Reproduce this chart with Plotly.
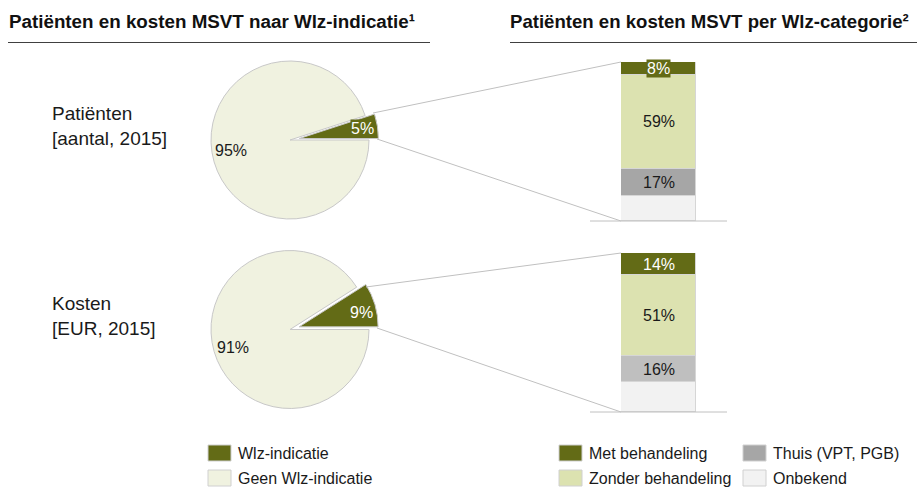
import plotly.graph_objects as go

W, H = 918, 488
FONT = "Liberation Sans, Arial, sans-serif"

# ---- data ----
pie_labels = ["Wlz-indicatie", "Geen Wlz-indicatie"]
pie_patienten = [5, 95]
pie_kosten = [9, 91]

bar_categories = ["Onbekend", "Thuis (VPT, PGB)", "Zonder behandeling", "Met behandeling"]
bar_patienten = [16, 17, 59, 8]
bar_kosten = [19, 16, 51, 14]

row_labels = ["Patiënten<br>[aantal, 2015]", "Kosten<br>[EUR, 2015]"]
title_left = "Patiënten en kosten MSVT naar Wlz-indicatie¹"
title_right = "Patiënten en kosten MSVT per Wlz-categorie²"

# ---- styles ----
OLIVE = "#636b16"
PALE = "#f0f2e0"
LGREEN = "#dce2b0"
GRAY1 = "#a6a6a6"
GRAY2 = "#bfbfbf"
OFF = "#f2f2f2"
LINE = "#c0c0c0"
TXT = "#1a1a1a"


def px(x):
    return x / W


def py(y):
    return 1 - y / H


fig = go.Figure()

PULL = 0.12
R = 79
half = R * (1 + PULL)
pie_centers = [(290, 140), (290, 329.5)]
for vals, (cx, cy) in zip([pie_patienten, pie_kosten], pie_centers):
    rot = 90 - 360.0 * vals[0] / sum(vals)
    fig.add_trace(go.Pie(
        labels=pie_labels, values=vals, sort=False, direction="counterclockwise",
        rotation=rot, pull=[PULL, 0], textinfo="none", hoverinfo="label+percent",
        marker=dict(colors=[OLIVE, PALE], line=dict(color="#c8c8c8", width=1)),
        domain=dict(x=[px(cx - half), px(cx + half)], y=[py(cy + half), py(cy - half)]),
        showlegend=False,
    ))

bar_colors_sets = [[OFF, GRAY1, LGREEN, OLIVE], [OFF, GRAY2, LGREEN, OLIVE]]
bar_boxes = [(621, 696, 62, 221), (621, 696, 253, 412)]
for i, (vals, cols, (x0, x1, y0, y1)) in enumerate(zip([bar_patienten, bar_kosten], bar_colors_sets, bar_boxes)):
    ax = i + 2
    for cat, v, c in zip(bar_categories, vals, cols):
        fig.add_trace(go.Bar(
            x=[0], y=[v], name=cat, width=1, marker=dict(color=c, line=dict(color="#d6d6d6", width=1)),
            xaxis=f"x{ax}", yaxis=f"y{ax}", showlegend=False, hoverinfo="name+y",
        ))
    fig.layout[f"xaxis{ax}"] = dict(domain=[px(x0), px(x1)], range=[-0.5, 0.5], visible=False, fixedrange=True,
                                    anchor=f"y{ax}")
    fig.layout[f"yaxis{ax}"] = dict(domain=[py(y1), py(y0)], range=[0, 100], visible=False, fixedrange=True,
                                    anchor=f"x{ax}")
    cum = 0
    for j, (cat, v, c) in enumerate(zip(bar_categories, vals, cols)):
        mid = cum + v / 2
        cum += v
        if j == 0:
            continue
        dark = c == OLIVE
        fig.add_annotation(
            x=0, y=mid, xref=f"x{ax}", yref=f"y{ax}", text=f"{v}%", showarrow=False,
            xanchor="center", yanchor="middle",
            font=dict(family=FONT, size=16, color="white" if dark else TXT),
            bgcolor=OLIVE if (dark and v < 10) else None, borderpad=0,
        )

fig.update_layout(barmode="stack", bargap=0)

shapes = []
shapes.append(dict(type="line", xref="paper", yref="paper", x0=px(8), x1=px(430), y0=py(42.5), y1=py(42.5),
                   line=dict(color="#404040", width=1)))
shapes.append(dict(type="line", xref="paper", yref="paper", x0=px(510), x1=px(917), y0=py(42.5), y1=py(42.5),
                   line=dict(color="#404040", width=1)))
connectors = [((373, 113), (621, 62)), ((377, 139), (621, 221)),
              ((366, 287), (621, 253)), ((377, 328), (621, 412))]
for (a, b) in connectors:
    shapes.append(dict(type="line", xref="paper", yref="paper", x0=px(a[0]), y0=py(a[1]), x1=px(b[0]), y1=py(b[1]),
                       line=dict(color=LINE, width=1)))
for y in (221, 412):
    shapes.append(dict(type="line", xref="paper", yref="paper", x0=px(590), x1=px(727), y0=py(y), y1=py(y),
                       line=dict(color=LINE, width=1)))

legend_items = [
    (208, 445, OLIVE, pie_labels[0]),
    (208, 470, PALE, pie_labels[1]),
    (559, 445, OLIVE, bar_categories[3]),
    (559, 470, LGREEN, bar_categories[2]),
    (743, 445, GRAY1, bar_categories[1]),
    (743, 470, OFF, bar_categories[0]),
]
annotations = []
for (x, y, c, t) in legend_items:
    shapes.append(dict(type="rect", xref="paper", yref="paper", x0=px(x), x1=px(x + 23), y0=py(y + 16), y1=py(y),
                       fillcolor=c, line=dict(color="#d0d0d0", width=1)))
    annotations.append(dict(x=px(x + 28), y=py(y + 8.5), xref="paper", yref="paper", text=t, showarrow=False,
                            xanchor="left", yanchor="middle", font=dict(family=FONT, size=16, color=TXT)))

annotations.append(dict(x=px(7), y=py(22), xref="paper", yref="paper", text=f"<b>{title_left}</b>", showarrow=False,
                        xanchor="left", yanchor="middle", font=dict(family=FONT, size=18.8, color="#111111")))
annotations.append(dict(x=px(508), y=py(22), xref="paper", yref="paper", text=f"<b>{title_right}</b>", showarrow=False,
                        xanchor="left", yanchor="middle", font=dict(family=FONT, size=18.6, color="#111111")))
for txt, yc in zip(row_labels, (126, 315.5)):
    annotations.append(dict(x=px(50), y=py(yc), xref="paper", yref="paper", text=txt, showarrow=False,
                            xanchor="left", yanchor="middle", align="left",
                            font=dict(family=FONT, size=19, color=TXT)))
pie_label_pos = [((231, 151), (362, 128)), ((233, 347), (361, 312))]
for vals, (big, small) in zip([pie_patienten, pie_kosten], pie_label_pos):
    annotations.append(dict(x=px(small[0]), y=py(small[1]), xref="paper", yref="paper", text=f"{vals[0]}%",
                            xanchor="center", yanchor="middle",
                            showarrow=False, font=dict(family=FONT, size=16, color="white"),
                            bgcolor=OLIVE if vals[0] < 7 else None, borderpad=0))
    annotations.append(dict(x=px(big[0]), y=py(big[1]), xref="paper", yref="paper", text=f"{vals[1]}%",
                            xanchor="center", yanchor="middle",
                            showarrow=False, font=dict(family=FONT, size=16, color=TXT)))

fig.update_layout(
    width=W, height=H, margin=dict(l=0, r=0, t=0, b=0),
    paper_bgcolor="white", plot_bgcolor="white",
    shapes=shapes, annotations=list(fig.layout.annotations) + annotations,
    font=dict(family=FONT),
)

fig.write_html("out.html", config={"displayModeBar": False},
               post_script="document.body.style.margin='0px';document.body.style.overflow='hidden';")
